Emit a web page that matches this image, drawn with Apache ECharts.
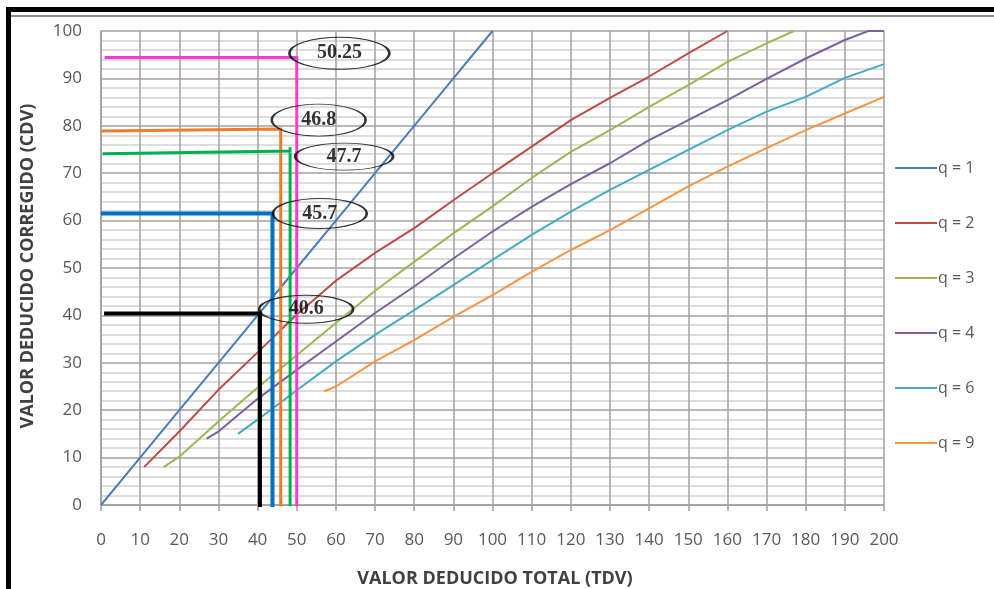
<!DOCTYPE html>
<html><head><meta charset="utf-8">
<script src="https://cdn.jsdelivr.net/npm/echarts@6/dist/echarts.min.js"></script>
<style>html,body{margin:0;padding:0;background:#fff}#c{width:994px;height:589px}</style>
</head><body><div id="c"></div>
<script>
// ---- data ----
const seriesNames = ['q = 1', 'q = 2', 'q = 3', 'q = 4', 'q = 6', 'q = 9'];
const q1 = [[0,0],[10,10],[20,20],[30,30],[40,40],[50,50],[60,60],[70,70],[80,80],[90,90],[100,100]];
const q2 = [[11,8],[20,15.5],[30,24.3],[40,32.2],[50,40.2],[60,47.3],[70,53.2],[80,58.4],[90,64.3],[100,70],[110,75.6],[120,81.2],[130,85.9],[140,90.4],[150,95.3],[160,100]];
const q3 = [[16,8],[20,10.2],[30,17.6],[40,24.8],[50,31.6],[60,38.4],[70,45.2],[80,51.3],[90,57.3],[100,63],[110,69],[120,74.5],[130,79.1],[140,84],[150,88.6],[160,93.5],[170,97.4],[177,100]];
const q4 = [[27,14],[30,15.5],[40,22.4],[50,28.5],[60,34.5],[70,40.5],[80,46.1],[90,52],[100,57.7],[110,62.9],[120,67.7],[130,72.1],[140,77],[150,81.2],[160,85.4],[170,89.9],[180,94.2],[190,98.1],[196,100],[200,100]];
const q6 = [[35,15],[40,18],[50,24.2],[60,30.3],[70,35.9],[80,41.1],[90,46.4],[100,51.7],[110,57],[120,61.9],[130,66.5],[140,70.7],[150,74.9],[160,79.1],[170,83],[180,86.1],[190,90.1],[200,93]];
const q9 = [[57,24],[60,25],[70,30.3],[80,34.8],[90,39.7],[100,44.3],[110,49.2],[120,53.8],[130,58],[140,62.6],[150,67.2],[160,71.4],[170,75.3],[180,79.1],[190,82.6],[200,86.1]];
const curves = [q1, q2, q3, q4, q6, q9];

// reference (hand-drawn) lines, in axis units
const refPink   = [[1.3,94.4],[50.0,94.4],[50.0,0]];
const refOrange = [[0.5,78.9],[45.9,79.3],[45.9,0]];
const refGreen  = [[0.8,74.1],[48.3,74.7],[48.3,75.5],[48.3,0]];
const refBlue   = [[0.5,61.5],[43.8,61.5],[43.8,0]];
const refBlack  = [[1.3,40.4],[40.6,40.4],[40.6,0]];
const refLines = [refPink, refOrange, refGreen, refBlue, refBlack];

const annLabels = ['50.25', '46.8', '47.7', '45.7', '40.6'];
const annPoints = [[60.9,95.3],[55.6,81.2],[62.1,73.5],[55.9,61.5],[52.4,41.3]];

const xTicks = [0,10,20,30,40,50,60,70,80,90,100,110,120,130,140,150,160,170,180,190,200];
const yTicks = [0,10,20,30,40,50,60,70,80,90,100];

// ---- styles ----
const curveColors = ['#4a7ebb', '#be4b48', '#98b954', '#7d60a0', '#46aac5', '#f69545'];
const refColors = ['#ff3ad2', '#f07c28', '#00b050', '#0070c0', '#000000'];
const refWidths = [3, 3, 3, 4, 4];
const annSizes = [[100,32],[94,32],[98,27],[94,30],[94,28]];

const chart = echarts.init(document.getElementById('c'), null, {renderer: 'canvas'});

const series = [];
curves.forEach((d, i) => {
  series.push({
    name: seriesNames[i], type: 'line', data: d, symbol: 'none',
    lineStyle: {color: curveColors[i], width: 2}, itemStyle: {color: curveColors[i]},
    z: 3, silent: true, animation: false
  });
});
refLines.forEach((d, i) => {
  series.push({
    name: 'ref' + i, type: 'line', data: d, symbol: 'none',
    lineStyle: {color: refColors[i], width: refWidths[i], cap: 'square', join: 'miter'},
    z: 5, silent: true, animation: false
  });
});
series.push({
  name: 'ann', type: 'scatter', z: 6, silent: true, animation: false,
  symbol: 'circle',
  data: annPoints.map((p, i) => ({value: p, symbolSize: annSizes[i], label: {formatter: annLabels[i]}})),
  itemStyle: {color: 'rgba(0,0,0,0)', borderColor: '#000', borderWidth: 1.5},
  label: {show: true, position: 'inside', color: '#000', fontFamily: 'Liberation Serif', fontWeight: 'bold', fontSize: 20}
});

const gridColor = '#a0a0a0';
const option = {
  backgroundColor: '#fff',
  animation: false,
  grid: {left: 101, right: 110, top: 31, bottom: 84, containLabel: false},
  xAxis: {
    type: 'value', min: 0, max: 200, interval: 10,
    axisLine: {show: true, lineStyle: {color: gridColor, width: 1.5}},
    axisTick: {show: true, length: 6, lineStyle: {color: gridColor, width: 1.5}},
    axisLabel: {color: '#595959', fontSize: 17, fontFamily: 'Open Sans', margin: 27,
      formatter: v => xTicks.indexOf(v) >= 0 ? String(v) : ''},
    splitLine: {show: true, lineStyle: {color: gridColor, width: 1.5}}
  },
  yAxis: {
    type: 'value', min: 0, max: 100, interval: 10,
    axisLine: {show: true, lineStyle: {color: gridColor, width: 1.5}},
    axisTick: {show: false},
    axisLabel: {color: '#595959', fontSize: 17, fontFamily: 'Open Sans', margin: 19,
      formatter: v => yTicks.indexOf(v) >= 0 ? String(v) : ''},
    splitLine: {show: true, lineStyle: {color: gridColor, width: 1.5}},
    minorTick: {show: false, splitNumber: 5},
    minorSplitLine: {show: true, lineStyle: {color: '#d2d2d2', width: 1.5}}
  },
  legend: {
    orient: 'vertical', left: 895, top: 160, padding: 0,
    data: seriesNames, icon: 'rect', itemWidth: 42, itemHeight: 2, itemGap: 39,
    textStyle: {color: '#595959', fontSize: 16, fontFamily: 'Open Sans', padding: [0,0,0,-4]},
    selectedMode: false
  },
  graphic: [
    {type: 'rect', shape: {x: 6, y: 7, width: 988, height: 5}, style: {fill: '#000'}, z: 100},
    {type: 'rect', shape: {x: 11, y: 15, width: 983, height: 2}, style: {fill: '#8a8a8a'}, z: 100},
    {type: 'rect', shape: {x: 6, y: 7, width: 5, height: 582}, style: {fill: '#000'}, z: 100},
    {type: 'text', x: 28, y: 266, rotation: Math.PI / 2,
      style: {text: 'VALOR DEDUCIDO CORREGIDO (CDV)', fill: '#404040', font: 'bold 18px "Open Sans"', align: 'center', verticalAlign: 'middle'}, z: 100},
    {type: 'text', x: 495, y: 579,
      style: {text: 'VALOR DEDUCIDO TOTAL (TDV)', fill: '#404040', font: 'bold 18px "Open Sans"', align: 'center', verticalAlign: 'middle'}, z: 100}
  ],
  series: series
};
chart.setOption(option);
</script>
</body></html>
